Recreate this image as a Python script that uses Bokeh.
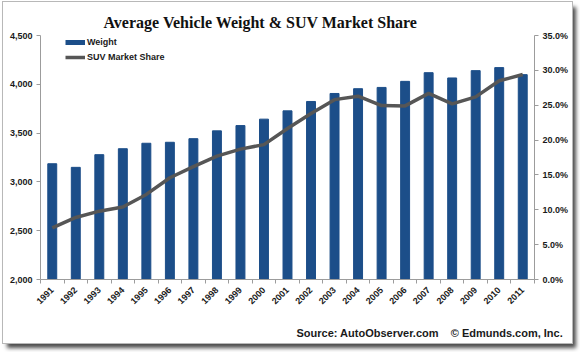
import math
from bokeh.plotting import figure
from bokeh.models import (Range1d, LinearAxis, FixedTicker, PrintfTickFormatter,
                          NumeralTickFormatter, Legend, LegendItem, Title)
from bokeh.embed import file_html
from bokeh.resources import INLINE

years = list(range(1991, 2012))
weight = [3186, 3149, 3279, 3340, 3396, 3406, 3443, 3523, 3577, 3643, 3728,
          3824, 3906, 3955, 3968, 4030, 4119, 4065, 4140, 4171, 4099]
suv_share = [7.4, 8.9, 9.8, 10.4, 12.2, 14.6, 16.2, 17.7, 18.7, 19.35, 21.65,
             23.8, 25.8, 26.3, 24.95, 24.9, 26.7, 25.2, 26.2, 28.5, 29.4]
weight_ticks = [2000, 2500, 3000, 3500, 4000, 4500]
share_ticks = [0, 5, 10, 15, 20, 25, 30, 35]

BAR = "#1C4E89"
LINE = "#565656"
AXIS = "#9c9c9c"
TXT = "#1a1a1a"
SANS = "Liberation Sans"

p = figure(width=569, height=341, output_backend="svg", toolbar_location=None,
           x_range=Range1d(1990.5, 2011.5), y_range=Range1d(2000, 4500),
           min_border_left=37, min_border_right=38, min_border_top=33,
           min_border_bottom=64)
p.margin = (2, 0, 0, 3)
p.styles = {"box-shadow": "0 0 0 1px #b8b8b8, 4px 5px 4px rgba(0,0,0,0.7)"}
p.outline_line_color = None
p.grid.grid_line_color = None
p.background_fill_color = None
p.border_fill_color = "white"
p.extra_y_ranges = {"share": Range1d(0, 35)}

bars = p.vbar(x=years, top=weight, bottom=2000, width=0.38, color=BAR)
ln = p.line(x=years, y=suv_share, y_range_name="share", line_color=LINE,
            line_width=3.5)
legend_bar = p.line(x=[years[0]], y=[float("nan")], line_color=BAR, line_width=5)

# axes
xa = p.xaxis[0]
xa.ticker = FixedTicker(ticks=years, minor_ticks=[y + 0.5 for y in years] + [1990.5])
xa.major_tick_out = 0
xa.major_tick_in = 0
xa.minor_tick_out = 4
xa.minor_tick_in = 0
xa.minor_tick_line_color = AXIS
xa.major_label_orientation = math.pi / 4
xa.axis_label = "\u00a0"
xa.axis_label_text_font_size = "7px"
xa.axis_label_standoff = 0

ya = p.yaxis[0]
ya.ticker = FixedTicker(ticks=weight_ticks)
ya.formatter = NumeralTickFormatter(format="0,0")
ya.minor_tick_line_color = None

ra = LinearAxis(y_range_name="share", ticker=FixedTicker(ticks=share_ticks),
                formatter=PrintfTickFormatter(format="%.1f%%"))
ra.minor_tick_line_color = None
p.add_layout(ra, "right")

for ax in [xa, ya, ra]:
    ax.axis_line_color = AXIS
    ax.major_tick_line_color = AXIS
    ax.major_label_text_font = SANS
    ax.major_label_text_font_style = "bold"
    ax.major_label_text_font_size = "9px"
    ax.major_label_text_color = TXT
for ax in [ya, ra]:
    ax.major_tick_out = 4
    ax.major_tick_in = 0
    ax.major_label_standoff = 4

legend = Legend(items=[LegendItem(label="Weight", renderers=[legend_bar]),
                       LegendItem(label="SUV Market Share", renderers=[ln])],
                location=(25, 215), padding=0, spacing=1, margin=0,
                glyph_width=20, glyph_height=14, label_height=14,
                label_standoff=2, border_line_color=None,
                background_fill_alpha=0,
                label_text_font=SANS, label_text_font_style="bold",
                label_text_font_size="9px", label_text_color=TXT)
p.add_layout(legend, "center")

title = Title(text="Average Vehicle Weight & SUV Market Share",
              text_font="Liberation Serif", text_font_style="bold",
              text_font_size="16px", align="left", offset=63,
              text_color="#111111")
footer = Title(text="Source: AutoObserver.com\u00a0\u00a0\u00a0\u00a0\u00a9 Edmunds.com, Inc.",
               text_font=SANS, text_font_style="bold", text_font_size="11px",
               align="left", offset=256, text_color=TXT)
p.add_layout(title, "above")
p.add_layout(footer, "below")

open("out.html", "w").write(file_html(p, INLINE))
